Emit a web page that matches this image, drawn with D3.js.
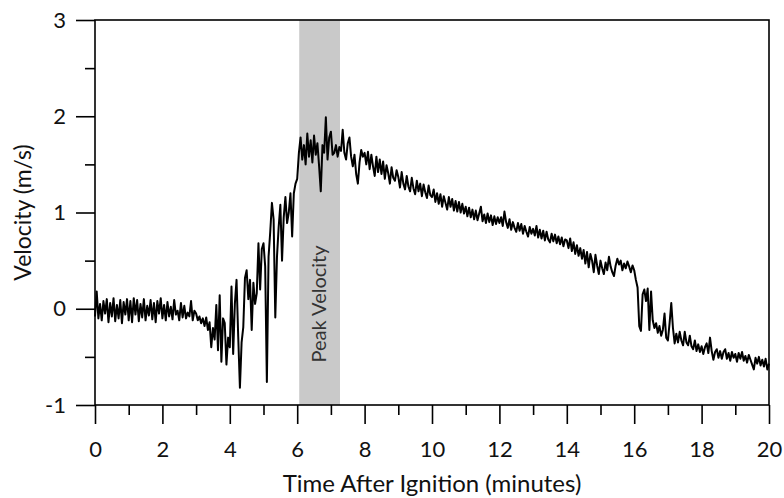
<!DOCTYPE html>
<html>
<head>
<meta charset="utf-8">
<script src="https://cdn.jsdelivr.net/npm/d3@7/dist/d3.min.js"></script>
<style>
  html, body { margin: 0; padding: 0; background: #fff; }
  svg { display: block; }
  text { font-family: Lato, "Open Sans", sans-serif; fill: #111; }
</style>
</head>
<body>
<svg id="chart" width="784" height="498"></svg>
<script>
// ---- data ----
const timeStart = 0;          // minutes
const timeStep = 0.05;        // minutes between samples
const velocity = [
  // 0 - 1 min
  -0.08, 0.18, -0.10, 0.05, -0.12, 0.08, -0.05, 0.10, -0.14, 0.06, -0.08, 0.11, -0.13, 0.04, -0.10, 0.09, -0.15, 0.07, -0.06, 0.10,
  // 1 - 2
  -0.12, 0.08, -0.14, 0.11, -0.06, 0.09, -0.13, 0.05, -0.09, 0.10, -0.12, 0.03, -0.07, 0.09, -0.11, 0.06, -0.14, 0.08, -0.05, 0.11,
  // 2 - 3
  -0.10, 0.04, -0.12, 0.07, -0.08, 0.02, -0.11, 0.09, -0.06, -0.02, -0.12, 0.06, -0.09, 0.03, -0.10, -0.04, -0.08, 0.08, -0.12, -0.02,
  // 3 - 4
  -0.05, -0.12, -0.08, -0.15, -0.10, -0.18, -0.09, -0.22, -0.14, -0.40, -0.20, -0.32, 0.04, -0.43, 0.14, -0.55, -0.10, -0.15, -0.58, -0.30,
  // 4 - 5
  -0.40, 0.23, -0.47, 0.05, 0.30, -0.29, -0.82, -0.35, -0.19, 0.32, 0.40, 0.10, 0.30, -0.22, 0.27, 0.05, 0.16, 0.68, 0.20, 0.62,
  // 5 - 6
  0.68, 0.44, -0.76, 0.54, 0.80, 1.10, 0.93, -0.09, 0.54, 0.85, 1.08, 0.50, 0.95, 1.16, 0.89, 1.00, 1.20, 0.75, 1.20, 1.30,
  // 6 - 7
  1.35, 1.62, 1.78, 1.55, 1.70, 1.50, 1.82, 1.58, 1.75, 1.52, 1.80, 1.60, 1.72, 1.48, 1.22, 1.70, 1.62, 1.99, 1.55, 1.78,
  // 7 - 8
  1.84, 1.60, 1.62, 1.70, 1.58, 1.68, 1.64, 1.86, 1.62, 1.55, 1.72, 1.78, 1.58, 1.48, 1.60, 1.40, 1.30, 1.52, 1.65, 1.58,
  // 8 - 9
  1.62, 1.50, 1.63, 1.45, 1.60, 1.48, 1.38, 1.58, 1.42, 1.55, 1.40, 1.53, 1.35, 1.49, 1.41, 1.30, 1.47, 1.36, 1.33, 1.44,
  // 9 - 10
  1.37, 1.26, 1.42, 1.30, 1.24, 1.38, 1.27, 1.22, 1.36, 1.25, 1.19, 1.33, 1.22, 1.30, 1.17, 1.29, 1.21, 1.15, 1.28, 1.18,
  // 10 - 11
  1.16, 1.24, 1.11, 1.20, 1.09, 1.19, 1.06, 1.17, 1.10, 1.03, 1.16, 1.06, 1.14, 1.02, 1.12, 1.01, 1.11, 1.00, 1.09, 0.99,
  // 11 - 12
  1.06, 0.96, 1.05, 0.95, 1.03, 0.93, 1.02, 0.92, 0.99, 1.06, 0.91, 0.98, 0.89, 0.99, 0.90, 0.97, 0.87, 0.96, 0.88, 0.95,
  // 12 - 13
  0.89, 0.95, 0.86, 1.01, 0.90, 0.84, 0.93, 0.82, 0.90, 0.84, 0.80, 0.89, 0.81, 0.88, 0.78, 0.86, 0.80, 0.75, 0.85, 0.78,
  // 13 - 14
  0.83, 0.76, 0.86, 0.74, 0.82, 0.73, 0.81, 0.71, 0.80, 0.72, 0.69, 0.78, 0.70, 0.77, 0.68, 0.75, 0.67, 0.74, 0.65, 0.72,
  // 14 - 15
  0.71, 0.63, 0.73, 0.60, 0.69, 0.57, 0.66, 0.55, 0.63, 0.52, 0.61, 0.47, 0.59, 0.43, 0.57, 0.50, 0.38, 0.56, 0.45, 0.36,
  // 15 - 16
  0.50, 0.42, 0.36, 0.48, 0.40, 0.54, 0.44, 0.38, 0.34, 0.45, 0.52, 0.46, 0.50, 0.40, 0.47, 0.42, 0.49, 0.44, 0.38, 0.45,
  // 16 - 17
  0.40, 0.30, 0.22, -0.18, -0.23, 0.15, 0.20, 0.08, 0.21, -0.22, 0.18, -0.12, -0.20, -0.15, -0.25, -0.18, -0.28, -0.22, -0.05, -0.30,
  // 17 - 18
  -0.33, -0.15, 0.06, -0.20, -0.36, -0.26, -0.35, -0.24, -0.33, -0.38, -0.24, -0.35, -0.38, -0.28, -0.39, -0.42, -0.33, -0.44, -0.37, -0.45,
  // 18 - 19
  -0.39, -0.47, -0.40, -0.36, -0.46, -0.30, -0.44, -0.53, -0.45, -0.42, -0.51, -0.44, -0.52, -0.45, -0.42, -0.52, -0.46, -0.54, -0.45, -0.51,
  // 19 - 20
  -0.47, -0.55, -0.46, -0.52, -0.45, -0.54, -0.49, -0.56, -0.48, -0.53, -0.58, -0.63, -0.51, -0.57, -0.50, -0.59, -0.53, -0.60, -0.52, -0.63, -0.57
];
const xMajorTicks = [0, 2, 4, 6, 8, 10, 12, 14, 16, 18, 20];
const xMinorTicks = [1, 3, 5, 7, 9, 11, 13, 15, 17, 19];
const yMajorTicks = [-1, 0, 1, 2, 3];
const yMinorTicks = [-0.5, 0.5, 1.5, 2.5];
const xDomain = [0, 20];
const yDomain = [-1, 3];
const peakBand = [6.06, 7.27];
const peakLabel = "Peak Velocity";
const xTitle = "Time After Ignition (minutes)";
const yTitle = "Velocity (m/s)";

// ---- layout ----
const margin = { left: 95, right: 15, top: 20, bottom: 93 };
const W = 784, H = 498;
const iw = W - margin.left - margin.right;
const ih = H - margin.top - margin.bottom;

const svg = d3.select("#chart");
const g = svg.append("g").attr("transform", `translate(${margin.left},${margin.top})`);

const x = d3.scaleLinear().domain(xDomain).range([0, iw]);
const y = d3.scaleLinear().domain(yDomain).range([ih, 0]);
const fmt = d => String(d); // plain hyphen-minus like the reference

// shaded band
g.append("rect")
  .attr("x", x(peakBand[0]))
  .attr("y", 0)
  .attr("width", x(peakBand[1]) - x(peakBand[0]))
  .attr("height", ih)
  .attr("fill", "#c9c9c9");

// band label
const bandMid = (peakBand[0] + peakBand[1]) / 2;
g.append("text")
  .attr("transform", `translate(${x(bandMid) + 6},${y(0.05)}) rotate(-90)`)
  .attr("text-anchor", "middle")
  .style("font-size", "20px")
  .style("fill", "#333")
  .text(peakLabel);

// data line
const data = velocity.map((v, i) => ({ t: timeStart + i * timeStep, v }));
const line = d3.line().x(d => x(d.t)).y(d => y(d.v));
g.append("path")
  .datum(data)
  .attr("d", line)
  .attr("fill", "none")
  .attr("stroke", "#000")
  .attr("stroke-width", 2)
  .attr("stroke-linejoin", "round");

// frame
g.append("rect")
  .attr("x", 0).attr("y", 0).attr("width", iw).attr("height", ih)
  .attr("fill", "none").attr("stroke", "#000").attr("stroke-width", 1.6);

// axes
function styleAxis(sel) {
  sel.select(".domain").remove();
  sel.selectAll(".tick line").attr("stroke", "#000").attr("stroke-width", 1.6);
}

const xMajor = g.append("g").attr("transform", `translate(0,${ih})`)
  .call(d3.axisBottom(x).tickValues(xMajorTicks).tickSize(19).tickPadding(17).tickFormat(fmt));
styleAxis(xMajor);
xMajor.selectAll(".tick text").style("font-size", "22px").style("font-family", "Lato, sans-serif").attr("fill", "#111");

const xMinor = g.append("g").attr("transform", `translate(0,${ih})`)
  .call(d3.axisBottom(x).tickValues(xMinorTicks).tickSize(10).tickFormat(""));
styleAxis(xMinor);

const yMajor = g.append("g")
  .call(d3.axisLeft(y).tickValues(yMajorTicks).tickSize(19).tickPadding(10).tickFormat(fmt));
styleAxis(yMajor);
yMajor.selectAll(".tick text").style("font-size", "22px").style("font-family", "Lato, sans-serif").attr("fill", "#111");

const yMinor = g.append("g")
  .call(d3.axisLeft(y).tickValues(yMinorTicks).tickSize(10).tickFormat(""));
styleAxis(yMinor);

// titles
svg.append("text")
  .attr("x", margin.left + iw / 2)
  .attr("y", 492)
  .attr("text-anchor", "middle")
  .style("font-size", "24px")
  .text(xTitle);

svg.append("text")
  .attr("transform", `translate(31,${margin.top + ih / 2}) rotate(-90)`)
  .attr("text-anchor", "middle")
  .style("font-size", "23px")
  .text(yTitle);
</script>
</body>
</html>
